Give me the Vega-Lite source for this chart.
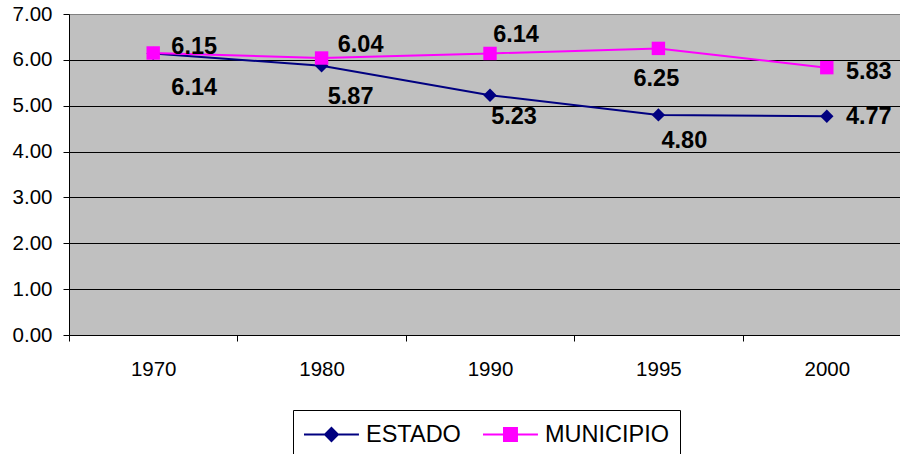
{
  "$schema": "https://vega.github.io/schema/vega-lite/v6.json",
  "width": 831,
  "height": 321,
  "autosize": {"type": "none"},
  "padding": {"left": 69, "top": 14, "right": 0, "bottom": 119},
  "background": "white",
  "config": {"view": {"fill": "#C0C0C0", "stroke": null}, "font": "Liberation Sans"},
  "data": {
    "values": [
      {"year": "1970", "series": "ESTADO", "value": 6.14},
      {"year": "1980", "series": "ESTADO", "value": 5.87},
      {"year": "1990", "series": "ESTADO", "value": 5.23},
      {"year": "1995", "series": "ESTADO", "value": 4.80},
      {"year": "2000", "series": "ESTADO", "value": 4.77},
      {"year": "1970", "series": "MUNICIPIO", "value": 6.15},
      {"year": "1980", "series": "MUNICIPIO", "value": 6.04},
      {"year": "1990", "series": "MUNICIPIO", "value": 6.14},
      {"year": "1995", "series": "MUNICIPIO", "value": 6.25},
      {"year": "2000", "series": "MUNICIPIO", "value": 5.83}
    ]
  },
  "encoding": {
    "x": {
      "field": "year", "type": "ordinal", "sort": null,
      "scale": {"range": [0, 842], "paddingInner": 0, "paddingOuter": 0},
      "axis": {
        "title": null, "labelAngle": 0, "labelFontSize": 20.5, "labelColor": "black",
        "labelPadding": 18, "tickBand": "extent", "tickSize": 6, "tickColor": "black",
        "domainColor": "black", "grid": false, "labelFont": "Liberation Sans"
      }
    },
    "y": {
      "field": "value", "type": "quantitative",
      "scale": {"domain": [0, 7], "nice": false, "zero": true},
      "axis": {
        "title": null, "values": [0, 1, 2, 3, 4, 5, 6, 7], "format": ".2f",
        "labelFontSize": 20.5, "labelColor": "black", "labelFont": "Liberation Sans",
        "tickSize": 6, "tickColor": "black", "labelPadding": 11, "domainColor": "black",
        "grid": true, "gridOpacity": 1,
        "gridColor": {"condition": {"test": "datum.value === 7", "value": "#808080"}, "value": "#000000"}
      }
    },
    "color": {
      "field": "series", "type": "nominal",
      "scale": {"domain": ["ESTADO", "MUNICIPIO"], "range": ["#000080", "#FF00FF"]},
      "legend": {
        "title": null, "orient": "none", "legendX": 224, "legendY": 396,
        "direction": "horizontal", "strokeColor": "black", "fillColor": "white",
        "padding": 10, "labelFontSize": 23.5, "labelFont": "Liberation Sans", "labelColor": "black",
        "symbolSize": 729, "symbolStrokeWidth": 2, "labelOffset": 34, "columnPadding": 18,
        "encode": {
          "symbols": {
            "update": {
              "shape": {"signal": "datum.value === 'ESTADO' ? 'M-1,0L3.07,0M1.035,-0.48L1.515,0L1.035,0.48L0.555,0Z' : 'M-1,0L3.07,0M0.555,-0.48L1.515,-0.48L1.515,0.48L0.555,0.48Z'"},
              "fill": {"signal": "datum.value === 'ESTADO' ? '#000080' : '#FF00FF'"},
              "stroke": {"signal": "datum.value === 'ESTADO' ? '#000080' : '#FF00FF'"},
              "strokeWidth": {"value": 2},
              "opacity": {"value": 1}
            }
          }
        }
      }
    }
  },
  "layer": [
    {"mark": {"type": "line", "strokeWidth": 2}},
    {
      "mark": {"type": "point", "filled": true, "size": 180, "opacity": 1,
        "shape": {"expr": "datum.series === 'ESTADO' ? 'diamond' : 'square'"}}
    },
    {
      "mark": {
        "type": "text", "font": "Liberation Sans", "fontWeight": "bold", "fontSize": 23.5,
        "align": "center", "baseline": "middle", "color": "black",
        "dx": {"expr": "datum.series === 'ESTADO' ? (datum.year === '1970' ? 41 : datum.year === '1980' ? 29 : datum.year === '1990' ? 24 : datum.year === '1995' ? 26 : 42) : (datum.year === '1970' ? 41 : datum.year === '1980' ? 39 : datum.year === '1990' ? 26 : datum.year === '1995' ? -2 : 42)"},
        "dy": {"expr": "datum.series === 'ESTADO' ? (datum.year === '1970' ? 35 : datum.year === '1980' ? 31 : datum.year === '1990' ? 22 : datum.year === '1995' ? 26 : 1) : (datum.year === '1970' ? -6 : datum.year === '1980' ? -13 : datum.year === '1990' ? -18 : datum.year === '1995' ? 31 : 4)"}
      },
      "encoding": {
        "text": {"field": "value", "type": "quantitative", "format": ".2f"},
        "color": {"value": "black"}
      }
    }
  ]
}
